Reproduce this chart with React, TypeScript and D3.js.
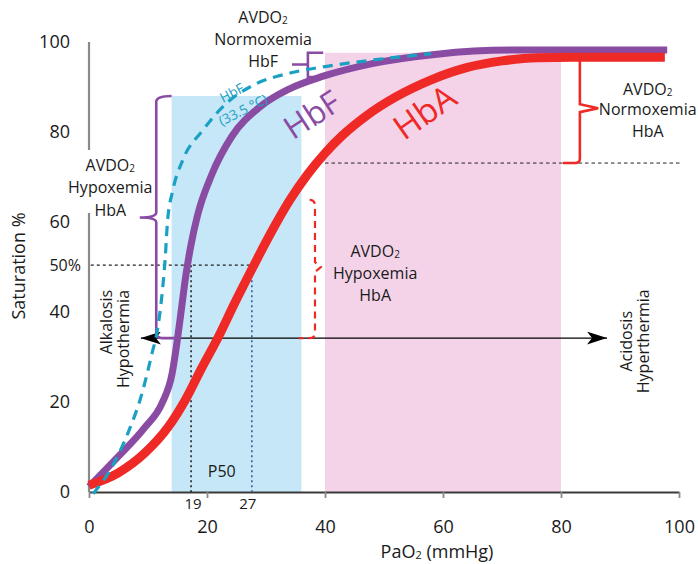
import { useEffect, useRef } from 'react';
import * as d3 from 'd3';

const FONT = "'Open Sans', 'Noto Sans', sans-serif";

const X_TICKS = [0, 20, 40, 60, 80, 100];
const Y_TICKS = [0, 20, 40, 60, 80, 100];

// [PaO2 (mmHg), saturation (%)]
const HBA_CURVE: [number, number][] = [
  [0, 1.5], [4.9, 4.2], [9.5, 8.7], [13.4, 14.4], [16.3, 20.4], [19.2, 27.8],
  [21.9, 34.4], [24.7, 42], [27.6, 49.5], [31, 58], [34, 64.8], [37, 70.5],
  [40, 75.3], [43, 79.3], [47, 83.6], [52, 87.8], [58, 91.6], [64, 94.3],
  [70, 95.8], [76, 96.5], [82, 96.6], [97.6, 96.6],
];
const HBF_CURVE: [number, number][] = [
  [0, 1.2], [4.9, 7.8], [9.5, 14.4], [12.4, 19.8], [14.1, 26.4], [14.9, 33.1],
  [15.6, 40], [16.4, 48], [17.3, 55], [18.4, 61.5], [20.8, 70.5], [24.2, 79],
  [29, 85.6], [34, 89.6], [39.7, 92.4], [48, 95.2], [59, 97.3], [72, 98.2], [98, 98.2],
];
const HBF_COLD_CURVE: [number, number][] = [
  [0.7, -0.4], [3.9, 5.6], [6.6, 13.1], [9, 22], [10.7, 30.9], [11.5, 35.3],
  [12.4, 44.2], [12.9, 51.6], [13.3, 60], [14.2, 67], [15.9, 73.8], [19.3, 80.4],
  [23.4, 86.5], [28, 90.5], [34.1, 93.1], [40.3, 94.6], [48.1, 96], [58, 97.4],
];

// shaded ranges: [from, to, top]
const BLUE_BAND = [14, 36, 88];
const PINK_BAND = [40, 80, 97.6];

const P50_PAO2 = [17.3, 27.6];
const P50_LABELS = ['19', '27'];
const P50_SAT = 50.4;

const SHIFT_SAT = 34.2;
const SHIFT_RANGE = [8.8, 87.8];
const NORMOX_HBA_SAT = 73.1;

const COLORS = {
  hba: '#ee2926',
  hbf: '#8a4ba3',
  cold: '#1aa0c2',
  blue: '#c6e7f8',
  pink: '#f4d3e9',
  text: '#1a1a1a',
};

export default function App() {
  const xAxisRef = useRef<SVGGElement>(null);
  const yAxisRef = useRef<SVGGElement>(null);

  const W = 698;
  const H = 564;
  const x = d3.scaleLinear().domain([0, 100]).range([89, 679]);
  const y = d3.scaleLinear().domain([0, 100]).range([492, 42]);

  useEffect(() => {
    const gx = d3.select(xAxisRef.current!);
    gx.call(d3.axisBottom(x).tickValues(X_TICKS).tickSize(6).tickSizeOuter(0).tickPadding(22));
    gx.select('.domain').attr('stroke', '#3a3a3a').attr('stroke-width', 1.8);
    gx.selectAll('.tick line').attr('stroke', '#8a8a8a').attr('stroke-width', 1.8);
    gx.selectAll('.tick text').attr('fill', COLORS.text).attr('font-size', 18).attr('font-family', FONT);

    const gy = d3.select(yAxisRef.current!);
    gy.call(d3.axisLeft(y).tickValues(Y_TICKS).tickSize(0).tickPadding(19));
    gy.select('.domain').remove();
    gy.selectAll('.tick text').attr('fill', COLORS.text).attr('font-size', 18).attr('font-family', FONT);
  }, []);

  const line = d3.line<[number, number]>()
    .x(d => x(d[0]))
    .y(d => y(d[1]))
    .curve(d3.curveMonotoneX);

  const avdo = (key: string, cx: number, baselines: number[], lines: string[]) => (
    <g key={key} fontFamily={FONT} fontSize={16} fill={COLORS.text} textAnchor="middle">
      {lines.map((t, i) => (
        <text key={i} x={x(cx)} y={y(baselines[i])}>
          {t === 'AVDO2' ? (<><tspan>AVDO</tspan><tspan fontSize={10} dy={1}>2</tspan></>) : t}
        </text>
      ))}
    </g>
  );

  // brace helpers (pixel space after scaling)
  const bx = x(11.4);
  const leftBrace = `M${x(14)},${y(88)} Q${bx},${y(88)} ${bx},${y(88) + 6} V${y(61) - 5} Q${bx},${y(61)} ${x(8.6)},${y(61)} Q${bx},${y(61)} ${bx},${y(61) + 5} V${y(SHIFT_SAT) - 5} Q${bx},${y(SHIFT_SAT)} ${bx + 6},${y(SHIFT_SAT)} H${x(15.1)}`;

  const sx = x(37.1);
  const smallBracket = `M${x(39.7)},${y(97.6)} H${sx} V${y(92.2)} H${x(39.5)} M${x(34.4)},${y(95)} H${sx}`;

  const rx = x(83.2);
  const redBrace = `M${rx},${y(96.6)} V${y(85.3) - 4} L${x(86.3)},${y(85.3)} L${rx},${y(85.3) + 4} V${y(NORMOX_HBA_SAT) - 4} Q${rx},${y(NORMOX_HBA_SAT)} ${rx - 5},${y(NORMOX_HBA_SAT)} H${x(80.3)}`;

  const dx = x(38.3);
  const dashedBrace = `M${x(37.4)},${y(64.9)} Q${dx},${y(64.9)} ${dx},${y(64.9) + 6} V${y(50) - 5} L${x(39.3)},${y(50)} L${dx},${y(50) + 5} V${y(SHIFT_SAT) - 5} Q${dx},${y(SHIFT_SAT)} ${dx - 6},${y(SHIFT_SAT)} H${x(35.6)}`;

  return (
    <svg width={W} height={H} style={{ position: 'absolute', left: 0, top: 0, background: '#fff' }}>
      <defs>
        <marker id="arrow" viewBox="0 0 20 13" refX={20} refY={6.5} markerWidth={20} markerHeight={13}
          markerUnits="userSpaceOnUse" orient="auto-start-reverse">
          <path d="M0,0 L20,6.5 L0,13 L5,6.5 Z" fill="#000" />
        </marker>
      </defs>

      {/* shaded bands */}
      <rect x={x(BLUE_BAND[0])} y={y(BLUE_BAND[2])} width={x(BLUE_BAND[1]) - x(BLUE_BAND[0])}
        height={y(0) - y(BLUE_BAND[2])} fill={COLORS.blue} />
      <rect x={x(PINK_BAND[0])} y={y(PINK_BAND[2])} width={x(PINK_BAND[1]) - x(PINK_BAND[0])}
        height={y(0) - y(PINK_BAND[2])} fill={COLORS.pink} />

      {/* y axis: grey line, broken behind the left label */}
      <line x1={x(0)} x2={x(0)} y1={y(100)} y2={y(76)} stroke="#8a8a8a" strokeWidth={2.2} />
      <line x1={x(0)} x2={x(0)} y1={y(62)} y2={y(0)} stroke="#8a8a8a" strokeWidth={2.2} />
      <g ref={yAxisRef} transform={`translate(${x(0)},0)`} />
      <g ref={xAxisRef} transform={`translate(0,${y(0)})`} />

      {/* P50 guides */}
      <line x1={x(0.3)} x2={x(P50_PAO2[1])} y1={y(P50_SAT)} y2={y(P50_SAT)}
        stroke="#222" strokeWidth={1.2} strokeDasharray="3,3" />
      {P50_PAO2.map((p, i) => (
        <line key={p} x1={x(p)} x2={x(p)} y1={y(P50_SAT)} y2={y(0)}
          stroke={i === 0 ? '#222' : '#3a5a9a'} strokeWidth={1.6} strokeDasharray="2,3" />
      ))}

      {/* normoxemia HbA reference */}
      <line x1={x(40)} x2={x(100.2)} y1={y(NORMOX_HBA_SAT)} y2={y(NORMOX_HBA_SAT)}
        stroke="#222" strokeWidth={1} strokeDasharray="3.5,3" />

      {/* shift arrow */}
      <line x1={x(SHIFT_RANGE[0])} x2={x(SHIFT_RANGE[1])} y1={y(SHIFT_SAT)} y2={y(SHIFT_SAT)}
        stroke="#000" strokeWidth={1.3} markerStart="url(#arrow)" markerEnd="url(#arrow)" />

      {/* braces */}
      <path d={leftBrace} fill="none" stroke={COLORS.hbf} strokeWidth={2.6} />
      <path d={smallBracket} fill="none" stroke={COLORS.hbf} strokeWidth={2.6} />
      <path d={redBrace} fill="none" stroke={COLORS.hba} strokeWidth={2.6} />
      <path d={dashedBrace} fill="none" stroke={COLORS.hba} strokeWidth={2.2} strokeDasharray="7,5" />

      {/* dissociation curves */}
      <path d={line(HBF_CURVE) ?? ''} fill="none" stroke={COLORS.hbf} strokeWidth={7} strokeLinecap="butt" />
      <path d={line(HBA_CURVE) ?? ''} fill="none" stroke={COLORS.hba} strokeWidth={9} strokeLinecap="butt" />
      <path d={line(HBF_COLD_CURVE) ?? ''} fill="none" stroke={COLORS.cold} strokeWidth={3.2} strokeDasharray="10,7" />

      {/* curve labels */}
      <text transform={`translate(${x(37.8)},${y(83.8)}) rotate(-33)`} textAnchor="middle" dy="0.35em"
        fontFamily={FONT} fontSize={32} fill={COLORS.hbf}>HbF</text>
      <text transform={`translate(${x(56.9)},${y(84.4)}) rotate(-35)`} textAnchor="middle" dy="0.35em"
        fontFamily={FONT} fontSize={34} fill={COLORS.hba}>HbA</text>
      <text transform={`translate(${x(24.2)},${y(88.7)}) rotate(-28)`} textAnchor="middle" dy="0.35em"
        fontFamily={FONT} fontSize={13.5} fill={COLORS.cold}>HbF</text>
      <text transform={`translate(${x(26.1)},${y(84.9)}) rotate(-27)`} textAnchor="middle" dy="0.35em"
        fontFamily={FONT} fontSize={13.5} fill={COLORS.cold}>(33.5 °C)</text>

      {/* AVDO2 annotations */}
      {avdo('top', 29.5, [104.2, 99.3, 94.4], ['AVDO2', 'Normoxemia', 'HbF'])}
      {avdo('left', 3.6, [71.3, 66.4, 61.3], ['AVDO2', 'Hypoxemia', 'HbA'])}
      {avdo('right', 94.7, [88.2, 83.8, 78.9], ['AVDO2', 'Normoxemia', 'HbA'])}
      {avdo('mid', 48.5, [52.2, 47.3, 42.4], ['AVDO2', 'Hypoxemia', 'HbA'])}

      {/* shift labels */}
      <g fontFamily={FONT} fontSize={16} fill={COLORS.text}>
        <text transform={`translate(${x(3.9)},${y(44.9)}) rotate(-90)`} textAnchor="end">Alkalosis</text>
        <text transform={`translate(${x(6.8)},${y(44.9)}) rotate(-90)`} textAnchor="end">Hypothermia</text>
        <text transform={`translate(${x(92)},${y(33.5)}) rotate(-90)`} textAnchor="middle">Acidosis</text>
        <text transform={`translate(${x(94.9)},${y(33.5)}) rotate(-90)`} textAnchor="middle">Hyperthermia</text>
      </g>

      {/* P50 labels */}
      <g fontFamily={FONT} fill={COLORS.text}>
        <text x={x(0) - 8} y={y(P50_SAT)} dy="0.35em" textAnchor="end" fontSize={16}>50%</text>
        <text x={x(22.5)} y={y(3.3)} textAnchor="middle" fontSize={16}>P50</text>
        {P50_PAO2.map((p, i) => (
          <text key={p} x={x(p) + (i === 0 ? 2 : -4)} y={y(-3.8)} textAnchor="middle" fontSize={15}>{P50_LABELS[i]}</text>
        ))}
      </g>

      {/* axis titles */}
      <text x={437} y={558} textAnchor="middle" fontFamily={FONT} fontSize={18} fill={COLORS.text}>
        <tspan>PaO</tspan><tspan fontSize={11} dy={1}>2</tspan><tspan dy={-1}> (mmHg)</tspan>
      </text>
      <text transform="translate(25,266) rotate(-90)" textAnchor="middle" fontFamily={FONT} fontSize={18}
        fill={COLORS.text}>Saturation %</text>
    </svg>
  );
}
